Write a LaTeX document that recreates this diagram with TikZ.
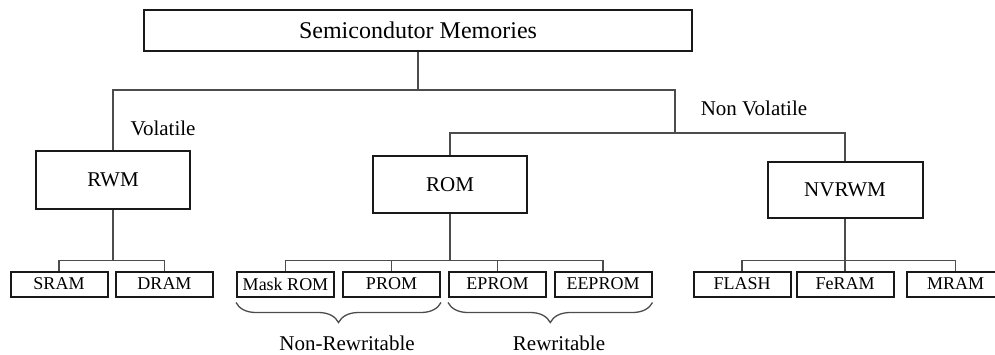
\documentclass[tikz,border=0pt]{standalone}
\usepackage{fontspec}
\setmainfont{Liberation Serif}
\usetikzlibrary{decorations.pathreplacing}

\begin{document}
\begin{tikzpicture}[x=1pt, y=-1pt,
  box/.style={rectangle,draw=black!90,line width=2pt,inner sep=0pt,font=\fontsize{21}{24}\selectfont},
  leaf/.style={box,minimum width=97pt,minimum height=25pt,font=\fontsize{18}{20}\selectfont},
  link/.style={draw=black!70,line width=1.4pt},
  brc/.style={decorate,decoration={brace,mirror,amplitude=20pt},draw=black!70,line width=1.3pt},
  lbl/.style={font=\fontsize{21}{24}\selectfont}]
  \useasboundingbox (0,0) rectangle (995,354);

  % Root
  \node[box,minimum width=548pt,minimum height=41pt,font=\fontsize{24}{28}\selectfont] (mem) at (418,30.5) {Semicondutor Memories};

  % Second level
  \node[box,minimum width=154pt,minimum height=58pt] (rwm) at (113,180) {RWM};
  \node[box,minimum width=154pt,minimum height=57pt] (rom) at (450,184.5) {ROM};
  \node[box,minimum width=155pt,minimum height=56pt] (nvrwm) at (845,190) {NVRWM};

  % Branch labels
  \node[lbl] (vol) at (163,128) {Volatile};
  \node[lbl] (nonvol) at (754,108) {Non Volatile};

  % Leaves
  \foreach \n/\x/\t in {sram/59/SRAM, dram/164.5/DRAM} {
    \node[leaf] (\n) at (\x,284) {\t};
  }
  \foreach \n/\x/\t in {mrom/285.5/Mask ROM, prom/391.5/PROM, eprom/497.5/EPROM, eeprom/603/EEPROM} {
    \node[leaf] (\n) at (\x,284) {\t};
  }
  \foreach \n/\x/\t in {flash/742/FLASH, feram/845/FeRAM, mram/955.5/MRAM} {
    \node[leaf] (\n) at (\x,284) {\t};
  }

  % Root -> second level
  \coordinate (j0) at (418,90);
  \coordinate (j1) at (675,90);
  \coordinate (j2) at (675,133);
  \draw[link] (mem) -- (j0);
  \draw[link] (rwm.north) |- (j1) -- (j2);
  \draw[link] (rom.north) |- (j2) -| (nvrwm.north);

  % Second level -> leaves
  \foreach \n in {sram,dram} {
    \draw[link] (rwm.south) |- ([yshift=10pt]\n.north) -- (\n.north);
  }
  \foreach \n in {mrom,prom,eprom,eeprom} {
    \draw[link] (rom.south) |- ([yshift=10pt]\n.north) -- (\n.north);
  }
  \foreach \n in {flash,feram,mram} {
    \draw[link] (nvrwm.south) |- ([yshift=10pt]\n.north) -- (\n.north);
  }

  % Braces
  \draw[brc] ([yshift=-5pt]mrom.south west) -- ([yshift=-5pt]prom.south east);
  \draw[brc] ([yshift=-5pt]eprom.south west) -- ([yshift=-5pt]eeprom.south east);
  \node[lbl] (nonrw) at (347,343) {Non-Rewritable};
  \node[lbl] (rw) at (559,343) {Rewritable};

\end{tikzpicture}
\end{document}
